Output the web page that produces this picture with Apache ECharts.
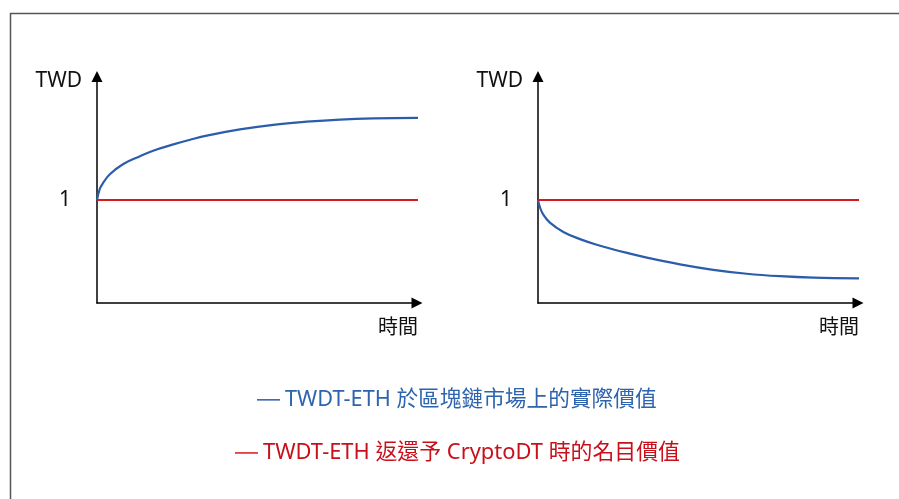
<!DOCTYPE html>
<html>
<head>
<meta charset="utf-8">
<title>TWDT-ETH</title>
<script src="https://cdn.jsdelivr.net/npm/echarts@6/dist/echarts.min.js"></script>
<style>
  html, body { margin: 0; padding: 0; background: #fff; }
  #chart { width: 899px; height: 499px; }
</style>
</head>
<body>
<div id="chart"></div>
<script>
// 區塊鏈市場上的實際價值（左：上升，右：下降）
const leftTime = [0, 0.09, 0.2, 0.4, 0.82, 1.34, 1.86, 2.38, 2.9, 3.42, 4.45, 5.49, 6.53, 7.57, 8.61, 10];
const leftValue = [1.0, 1.11, 1.17, 1.25, 1.35, 1.425, 1.49, 1.54, 1.585, 1.625, 1.685, 1.73, 1.76, 1.781, 1.792, 1.797];
const rightTime = [0, 0.06, 0.16, 0.37, 0.79, 1.31, 1.83, 2.35, 2.86, 3.39, 4.42, 5.46, 6.5, 7.54, 8.58, 10];
const rightValue = [1.0, 0.93, 0.86, 0.78, 0.69, 0.62, 0.565, 0.52, 0.48, 0.44, 0.375, 0.322, 0.284, 0.26, 0.246, 0.24];
// 名目價值固定為 1
const nominalTime = [0, 10];
const nominalValue = [1, 1];

const yTicks = ['1'];
const yAxisName = 'TWD';
const xAxisName = '時間';
const marketName = 'TWDT-ETH 於區塊鏈市場上的實際價值';
const nominalName = 'TWDT-ETH 返還予 CryptoDT 時的名目價值';

const BLUE = '#2b5daa';
const RED = '#d71920';
const FONT = '"Noto Sans", "Noto Sans CJK TC", sans-serif';

function pairs(xs, ys) {
  return xs.map((x, i) => [x, ys[i]]);
}

function makeXAxis(gridIndex) {
  return {
    type: 'value',
    gridIndex: gridIndex,
    min: 0,
    max: 10,
    name: xAxisName,
    nameLocation: 'end',
    nameGap: 0,
    nameMoveOverlap: false,
    nameTextStyle: {
      fontFamily: FONT, fontSize: 20, color: '#111',
      align: 'right', verticalAlign: 'top', padding: [15, 0, 0, 0]
    },
    axisLine: {
      onZero: false,
      symbol: ['none', 'triangle'],
      symbolSize: [11, 11],
      symbolOffset: [0, -1],
      lineStyle: { color: '#000', width: 1.5 }
    },
    axisTick: { show: false },
    axisLabel: { show: false },
    splitLine: { show: false }
  };
}

function makeYAxis(gridIndex) {
  return {
    type: 'value',
    gridIndex: gridIndex,
    min: 0,
    max: 2.2,
    interval: 1,
    name: yAxisName,
    nameLocation: 'end',
    nameGap: -5,
    nameMoveOverlap: false,
    nameTextStyle: {
      fontFamily: FONT, fontSize: 21, color: '#111',
      align: 'right', verticalAlign: 'middle', padding: [0, 15, 0, 0]
    },
    axisLine: {
      show: true,
      onZero: false,
      symbol: ['none', 'triangle'],
      symbolSize: [11, 11],
      lineStyle: { color: '#000', width: 1.5 }
    },
    axisTick: { show: false },
    axisLabel: {
      margin: 26,
      fontFamily: FONT,
      fontSize: 21,
      color: '#111',
      formatter: v => yTicks.includes(String(v)) ? String(v) : ''
    },
    splitLine: { show: false }
  };
}

function lineSeries(name, data, color, idx) {
  return {
    name: name,
    type: 'line',
    xAxisIndex: idx,
    yAxisIndex: idx,
    data: data,
    symbol: 'none',
    smooth: 0.4,
    color: color,
    lineStyle: { color: color, width: 2.2 },
    animation: false
  };
}

const chart = echarts.init(document.getElementById('chart'), null, { renderer: 'canvas' });

chart.setOption({
  backgroundColor: '#fff',
  animation: false,
  grid: [
    { left: 97, top: 76.4, width: 321, height: 226.6 },
    { left: 538, top: 76.4, width: 321, height: 226.6 }
  ],
  xAxis: [makeXAxis(0), makeXAxis(1)],
  yAxis: [makeYAxis(0), makeYAxis(1)],
  legend: [
    {
      top: 384, left: 252,
      selectedMode: false,
      icon: 'rect', itemWidth: 23, itemHeight: 1.5,
      textStyle: { fontFamily: FONT, fontSize: 21.7 },
      data: [{ name: marketName, textStyle: { color: '#2e64ae' } }]
    },
    {
      top: 437, left: 230,
      selectedMode: false,
      icon: 'rect', itemWidth: 23, itemHeight: 1.5,
      textStyle: { fontFamily: FONT, fontSize: 21.9 },
      data: [{ name: nominalName, textStyle: { color: '#c8101a' } }]
    }
  ],
  // 外框（只有上、左兩邊在畫面內）
  graphic: [{
    type: 'rect',
    shape: { x: 10.5, y: 13.5, width: 1000, height: 600 },
    style: { fill: 'none', stroke: '#555', lineWidth: 1.5 },
    silent: true
  }],
  series: [
    lineSeries(marketName, pairs(leftTime, leftValue), BLUE, 0),
    lineSeries(nominalName, pairs(nominalTime, nominalValue), RED, 0),
    lineSeries(marketName, pairs(rightTime, rightValue), BLUE, 1),
    lineSeries(nominalName, pairs(nominalTime, nominalValue), RED, 1)
  ]
});
</script>
</body>
</html>
